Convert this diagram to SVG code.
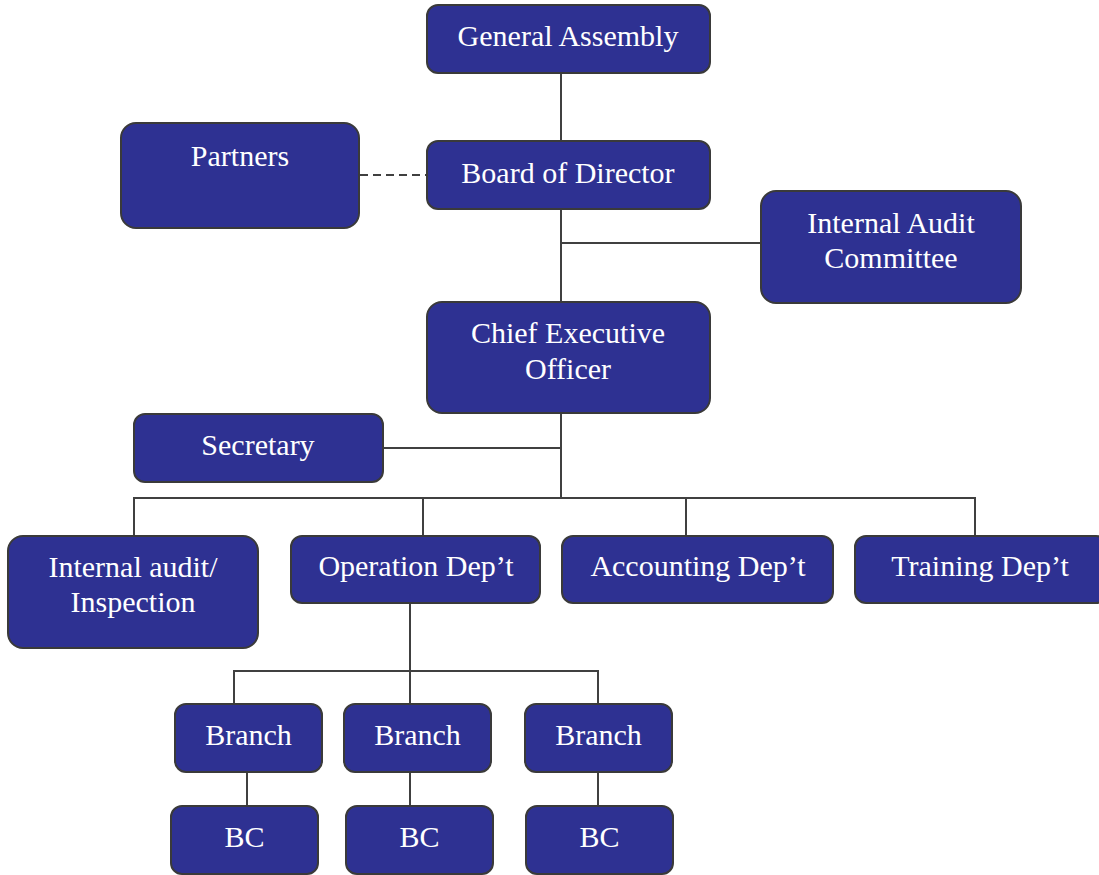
<svg xmlns="http://www.w3.org/2000/svg" width="1099" height="875" viewBox="0 0 1099 875">
<style>
.box{fill:#2E3192;stroke:#3a3a3a;stroke-width:2}
.t{font-family:"Liberation Serif","Times New Roman",serif;font-size:30px;fill:#ffffff;text-anchor:middle}
.c{stroke:#404040;stroke-width:2;fill:none}
.d{stroke:#404040;stroke-width:2;fill:none;stroke-dasharray:8 5}
</style>
<rect width="1099" height="875" fill="#ffffff"/>
<g id="connectors">
<path class="c" d="M561 73V141"/>
<path class="c" d="M561 209V302"/>
<path class="c" d="M561 243H761"/>
<path class="d" d="M360 175H427"/>
<path class="c" d="M561 413V498"/>
<path class="c" d="M383 448H561"/>
<path class="c" d="M134 536V498H975V536"/>
<path class="c" d="M423 498V536"/>
<path class="c" d="M686 498V536"/>
<path class="c" d="M410 603V704"/>
<path class="c" d="M234 704V671H598V704"/>
<path class="c" d="M247 772V806"/>
<path class="c" d="M410 772V806"/>
<path class="c" d="M598 772V806"/>
</g>
<g id="general-assembly"><rect class="box" x="427" y="5" width="283" height="68" rx="11"/><text class="t" x="568" y="46">General Assembly</text></g>
<g id="board"><rect class="box" x="427" y="141" width="283" height="68" rx="11"/><text class="t" x="568" y="183">Board of Director</text></g>
<g id="partners"><rect class="box" x="121" y="123" width="238" height="105" rx="15"/><text class="t" x="240" y="166">Partners</text></g>
<g id="internal-audit-committee"><rect class="box" x="761" y="191" width="260" height="112" rx="15"/><text class="t" x="891" y="233">Internal Audit</text><text class="t" x="891" y="268">Committee</text></g>
<g id="ceo"><rect class="box" x="427" y="302" width="283" height="111" rx="15"/><text class="t" x="568" y="343">Chief Executive</text><text class="t" x="568" y="379">Officer</text></g>
<g id="secretary"><rect class="box" x="134" y="414" width="249" height="68" rx="11"/><text class="t" x="258" y="455">Secretary</text></g>
<g id="internal-audit"><rect class="box" x="8" y="536" width="250" height="112" rx="15"/><text class="t" x="133" y="577">Internal audit/</text><text class="t" x="133" y="612">Inspection</text></g>
<g id="operation"><rect class="box" x="291" y="536" width="249" height="67" rx="11"/><text class="t" x="416" y="576">Operation Dep’t</text></g>
<g id="accounting"><rect class="box" x="562" y="536" width="271" height="67" rx="11"/><text class="t" x="698" y="576">Accounting Dep’t</text></g>
<g id="training"><rect class="box" x="855" y="536" width="252" height="67" rx="11"/><text class="t" x="980" y="576">Training Dep’t</text></g>
<g id="branch1"><rect class="box" x="175" y="704" width="147" height="68" rx="11"/><text class="t" x="248.5" y="745">Branch</text></g>
<g id="branch2"><rect class="box" x="344" y="704" width="147" height="68" rx="11"/><text class="t" x="417.5" y="745">Branch</text></g>
<g id="branch3"><rect class="box" x="525" y="704" width="147" height="68" rx="11"/><text class="t" x="598.5" y="745">Branch</text></g>
<g id="bc1"><rect class="box" x="171" y="806" width="147" height="68" rx="11"/><text class="t" x="244.5" y="847">BC</text></g>
<g id="bc2"><rect class="box" x="346" y="806" width="147" height="68" rx="11"/><text class="t" x="419.5" y="847">BC</text></g>
<g id="bc3"><rect class="box" x="526" y="806" width="147" height="68" rx="11"/><text class="t" x="599.5" y="847">BC</text></g>
</svg>
